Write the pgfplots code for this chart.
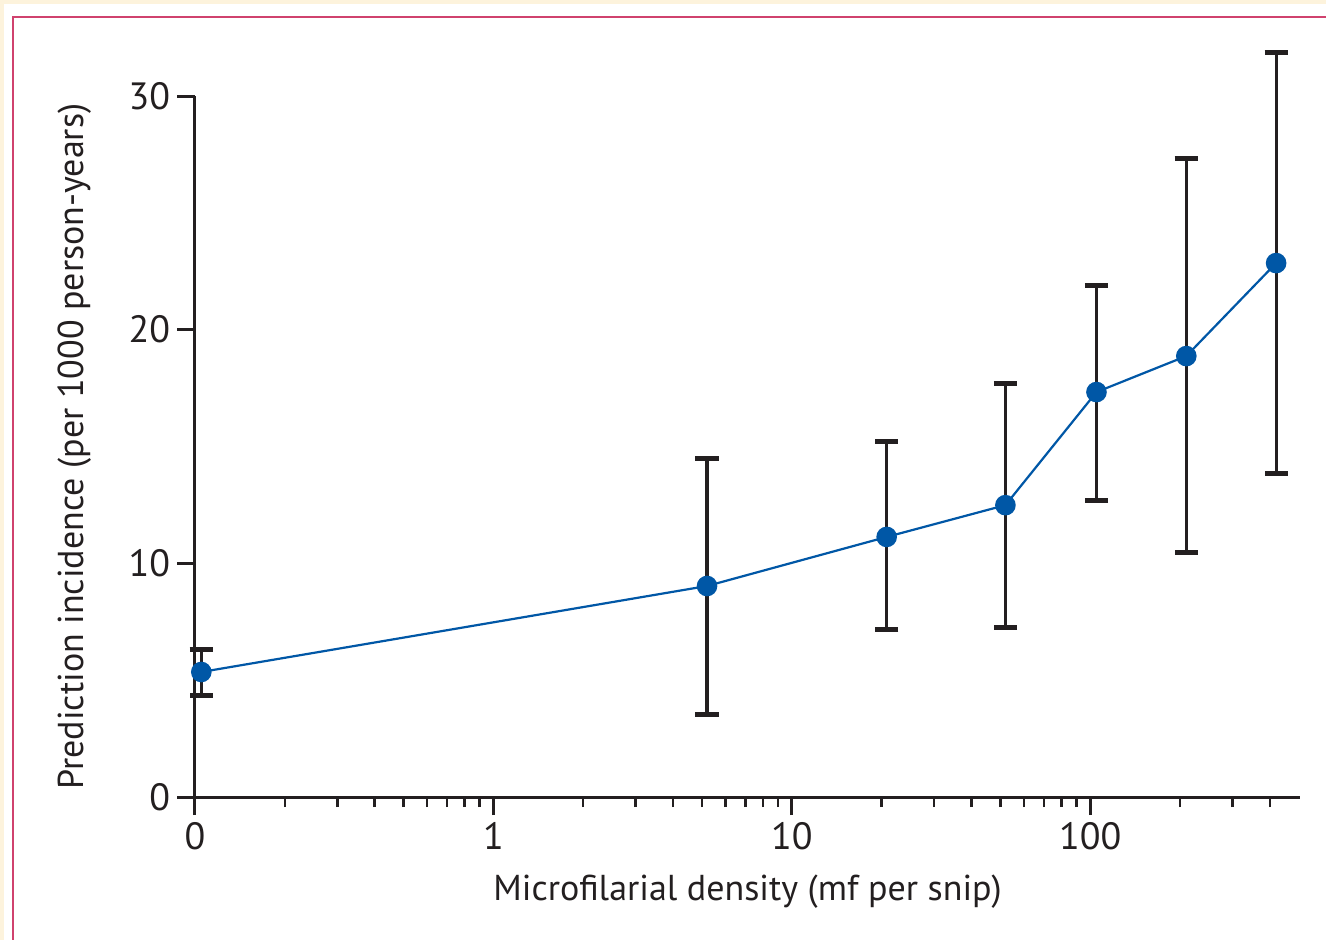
\documentclass[border=0pt]{standalone}
\usepackage{pgfplots}
\pgfplotsset{compat=1.18}
\usepackage{fontspec}
\setmainfont{PT Sans}

\definecolor{pagebg}{RGB}{253,243,220}
\definecolor{boxline}{RGB}{208,66,110}
\definecolor{ink}{RGB}{35,31,32}
\definecolor{dotblue}{RGB}{0,87,166}

\begin{document}
\begin{tikzpicture}
% background in pixel units (1px = 0.5pt, y down)
\begin{scope}[x=0.5pt,y=-0.5pt]
\useasboundingbox (0,0) rectangle (1326,940);
\fill[pagebg] (0,0) rectangle (1326,940);
\fill[white] (4,4) rectangle (1326,940);
\draw[boxline, line width=1pt] (13,940) -- (13,17) -- (1326,17);
\end{scope}

\begin{axis}[
    at={(97.5pt,-398.5pt)}, anchor=south west,
    scale only axis,
    width=552.5pt, height=350.5pt,
    xmode=log,
    xmin=0.1, xmax=505,
    ymin=0, ymax=30,
    clip=false,
    axis x line=bottom, axis y line=left,
    axis line style={-, line width=1.5pt, ink},
    xtick={0.1,1,10,100},
    xticklabels={0,1,10,100},
    minor xtick={0.2,0.3,0.4,0.5,0.6,0.7,0.8,0.9,2,3,4,5,6,7,8,9,20,30,40,50,60,70,80,90,200,300,400},
    ytick={0,10,20,30},
    tick align=outside,
    major tick length=9pt,
    minor tick length=5pt,
    every tick/.style={ink, line width=1.5pt},
    minor tick style={line width=1.3pt},
    /pgf/number format/assume math mode=true,
    tick label style={font=\fontsize{19}{22}\selectfont, text=ink},
    label style={font=\fontsize{18}{21}\selectfont, text=ink},
    xlabel={Microfilarial density (mf per snip)},
    ylabel={Prediction incidence (per 1000 person-years)},
    xlabel style={at={(axis description cs:0.5,-0.135)}, anchor=center},
    ylabel style={at={(axis description cs:-0.109,0.5)}, anchor=center},
]
\addplot[
    dotblue, line width=1.1pt,
    mark=*, mark size=4.6pt, mark options={fill=dotblue, draw=dotblue},
    error bars/.cd,
        y dir=both, y explicit,
        error bar style={ink, line width=1.6pt},
        error mark options={ink, rotate=90, mark size=5.8pt, line width=2.5pt},
] coordinates {
    (0.105, 5.35) += (0,0.98) -= (0,0.99)
    (5.2,   9.03) += (0,5.47) -= (0,5.48)
    (20.8, 11.13) += (0,4.10) -= (0,3.98)
    (52,   12.49) += (0,5.22) -= (0,5.22)
    (105,  17.33) += (0,4.57) -= (0,4.62)
    (210,  18.87) += (0,8.47) -= (0,8.39)
    (420,  22.85) += (0,9.03) -= (0,8.99)
};
\end{axis}
\end{tikzpicture}
\end{document}
